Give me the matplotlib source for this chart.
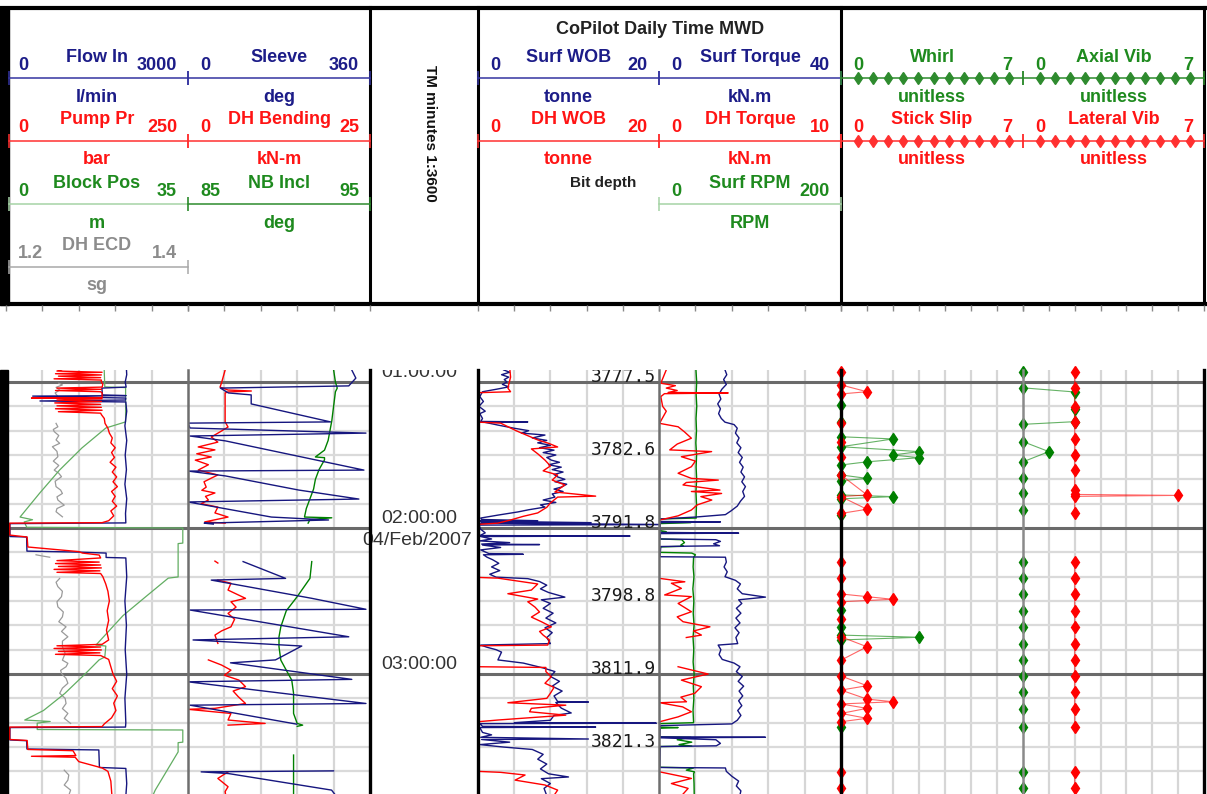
import numpy as np
import matplotlib.pyplot as plt
from matplotlib.patches import Rectangle

plt.rcParams['font.family'] = ['Liberation Sans', 'DejaVu Sans']

W, H = 1207, 794
DATA_TOP = 370                 # pixel row where the log body starts
T_TOP, T_BOT = 55.07, 229.3    # minutes after 00:00, 04/Feb/2007
nan = np.nan

# ---------------- log data: (minutes, value) ----------------
flow_in = [(50, 1975), (57, 1990), (60, 1965), (62.1, 1980), (62.5, 1580), (65.3, 1590), (65.6, 1980),
           (65.8, 440), (66.6, 1975), (67.4, 1970), (67.8, 560), (68.2, 1975), (72, 1990), (78, 1960),
           (84, 1990), (90, 1965), (96, 1985), (102, 1960), (108, 1990), (114, 1970), (117.9, 1975),
           (118.2, 65), (123.5, 65), (123.7, 340), (129.5, 345), (129.9, 1200), (130.3, 1650), (132.1, 1650),
           (132.3, 1975), (140, 1990), (150, 1960), (160, 1985), (170, 1965), (180, 1990), (190, 1960),
           (200, 1975), (201.8, 1970), (202.0, 65), (207.1, 65), (207.4, 340), (210.8, 345), (211.2, 1530),
           (218.4, 1540), (218.8, 1975), (225, 1990), (232, 1970)]

pump_pr = [(50, 130), (55.5, 70), (56, 132), (56.6, 68), (57.1, 131), (57.6, 72), (58.2, 130), (58.7, 66),
           (59.2, 131), (60, 131), (61, 133), (62.1, 132), (62.5, 70), (63, 131), (63.5, 68), (64, 130),
           (64.5, 132), (66.4, 132), (66.6, 35), (66.9, 132), (67.4, 70), (68, 131), (68.6, 67), (69.2, 130),
           (69.8, 70), (70.4, 131), (71, 68), (71.6, 132), (72.2, 72), (72.8, 130), (73.4, 131), (75, 135),
           (77, 136), (79, 140), (81, 142), (83, 146), (85, 144), (87, 150), (89, 145), (91, 149), (93, 143),
           (95, 151), (97, 146), (99, 152), (101, 147), (103, 153), (105, 145), (107, 150), (109, 146),
           (111, 152), (113, 144), (115, 148), (117, 141), (117.8, 132), (118.0, 5), (122.9, 5), (123.7, 29),
           (127.8, 30), (129.7, 100), (130.3, 105), (131.1, 128), (132.3, 130), (133.4, 70), (134, 128),
           (134.6, 68), (135.2, 130), (135.8, 72), (136.4, 131), (137, 66), (137.6, 129), (138.2, 70),
           (138.7, 130), (140, 133), (143, 137), (146, 140), (150, 142), (154, 139), (158, 141), (162, 138),
           (166, 141), (167.8, 132), (168.4, 70), (168.9, 130), (169.5, 66), (170.1, 131), (170.7, 72),
           (171.3, 129), (171.9, 68), (172.4, 130), (174, 141), (177, 144), (180, 147), (183, 152), (186, 146),
           (189, 153), (192, 148), (195, 151), (198, 145), (200.5, 135), (201.6, 132), (201.8, 5), (206.9, 5),
           (207.3, 29), (211, 30), (211.5, 92), (213.5, 96), (213.8, 35), (214.2, 95), (216, 100),
           (218.6, 132), (220, 140), (224, 144), (232, 146)]

block_pos = [(50, 18.8), (62.0, 19.0), (62.3, 23.0), (76.4, 23.0), (78.9, 19.2), (87.1, 14.6), (96.2, 10.3),
             (105.6, 6.5), (115.5, 2.7), (116.6, 5.1), (117.5, 3.5), (119.7, 4.0), (120.0, 34.0),
             (126.2, 34.0), (126.4, 33.1), (140.1, 33.1), (140.6, 31.2), (148, 27.0), (156, 22.5),
             (168.1, 17.3), (168.5, 19.2), (173, 19.0), (174.2, 17.9), (180, 15.2), (188, 11.3), (195, 7.2),
             (198.9, 3.6), (199.5, 8.5), (200.2, 6.0), (202.8, 6.0), (203.0, 34.0), (208.0, 34.0),
             (208.2, 33.1), (212.0, 33.1), (227.7, 28.7), (232, 27.8)]

dh_ecd = [(60.5, 1.258), (61.2, 1.262), (62.2, 1.255), (63.3, 1.259), (64.5, 1.254), (66.0, 1.257), (67, nan),
          (77.0, 1.255), (78.4, 1.257), (79.5, 1.252), (80.4, 1.253), (82, 1.258), (83.8, 1.255),
          (85.2, 1.259), (86.6, 1.251), (88.5, 1.256), (90.7, 1.257), (92.5, 1.252), (94.3, 1.258),
          (96.2, 1.253), (97.5, 1.258), (98.9, 1.261), (100.8, 1.254), (103.0, 1.255), (104.4, 1.260),
          (105.8, 1.262), (107.2, 1.256), (108.5, 1.257), (110.6, 1.264), (112, 1.256), (113.3, 1.255),
          (115.4, 1.262), (116, nan), (131.0, 1.233), (131.5, 1.240), (132.0, 1.248), (132.5, nan),
          (140.7, 1.259), (142.3, 1.255), (144.1, 1.257), (146, 1.262), (148.2, 1.261), (150.3, 1.256),
          (152.4, 1.257), (154.5, 1.263), (156.5, 1.262), (158.5, 1.258), (160.6, 1.266), (162.5, 1.261),
          (164.7, 1.268), (166.5, 1.262), (168.8, 1.262), (171.5, 1.265), (174.3, 1.262), (175.6, 1.268),
          (177.0, 1.266), (178.5, 1.260), (179.8, 1.261), (181.8, 1.266), (183.8, 1.268), (185.8, 1.262),
          (187.9, 1.259), (190, 1.265), (192.1, 1.266), (194.2, 1.262), (196.2, 1.268), (198.2, 1.264),
          (200.3, 1.271), (201, nan), (219.5, 1.264), (221.5, 1.269), (223.6, 1.268), (225.6, 1.264),
          (227.7, 1.271), (232, 1.267)]

sleeve = [(50, 330), (55.1, 324), (58.4, 332), (61.6, 318), (62.5, 64), (64.5, 80), (65.3, 125), (69.0, 125),
          (76.4, 282), (76.9, 0), (78.9, 4), (81.0, 352), (82.2, 4), (84.2, 74), (96.2, 348), (96.6, 0),
          (98.6, 74), (104.4, 219), (108.1, 338), (109.3, 0), (115.5, 165), (116.7, 278), (118.0, 32),
          (118.4, 50), (119, nan), (133.8, 109), (140.7, 193), (141.4, 46), (148.9, 245), (153.4, 352),
          (153.7, 4), (164.7, 318), (166.0, 10), (168.5, 225), (174.2, 173), (175.4, 84), (182.2, 324),
          (183.2, 0), (192.1, 352), (192.8, 4), (200.6, 215), (201, nan), (219.8, 288), (220.2, 26),
          (220.9, 80), (227.7, 284), (232, 300)]

dh_bending = [(50, 5.0), (55.1, 5.1), (60.4, 4.6), (62.1, 4.4), (63.3, 5.5), (63.7, 8.7), (64.1, 5.5),
              (64.5, 5.1), (76.4, 5.1), (78.5, 5.5), (80.5, 4.4), (82.6, 3.2), (84.7, 4.1), (86.7, 1.4),
              (87.9, 3.7), (89.5, 1.2), (90.8, 3.2), (92.1, 1.0), (94.0, 2.8), (96.2, 1.4), (98.2, 4.1),
              (99.5, 3.2), (101.0, 2.2), (103.2, 2.5), (104.5, 1.9), (105.6, 3.7), (107.0, 2.4), (108.5, 2.8),
              (110.0, 1.8), (111.4, 4.1), (113.8, 3.7), (115.5, 5.5), (117.5, 2.3), (118.0, 5.1), (118.5, nan),
              (133.6, 3.7), (134.4, 4.1), (135, nan), (141.4, 4.1), (142.7, 5.9), (145.5, 5.5), (148.9, 7.9),
              (150.3, 5.9), (152.5, 6.6), (155.1, 5.5), (157.5, 6.4), (160.6, 5.9), (162.3, 4.6), (164.0, 3.7),
              (167.4, 4.1), (168, nan), (174.2, 2.8), (176.3, 4.6), (178.4, 5.9), (180.5, 5.0), (182.5, 7.0),
              (185.2, 7.9), (187.0, 6.2), (189.3, 6.9), (192.1, 7.9), (194.1, 3.7), (194.5, 0.0), (196.2, 5.9),
              (198.9, 5.5), (200.3, 10.6), (201.0, 5.5), (201.5, nan), (220.2, 5.5), (222.9, 4.1),
              (226.3, 5.5), (228.3, 5.1), (232, 5.3)]

nb_incl = [(50, 93.0), (55, 93.0), (60, 93.1), (62.5, 93.2), (64, 93.1), (70, 93.0), (76, 92.9), (80, 92.8),
           (84, 92.7), (88, 92.5), (90.8, 92.0), (91.1, 92.5), (92, 92.5), (96, 92.2), (100, 92.0),
           (104, 91.9), (108, 91.7), (112, 91.5), (115.5, 91.4), (115.8, 92.9), (116.6, 91.7), (118, 91.6),
           (118.5, nan), (133.8, 91.8), (140.7, 91.7), (148.2, 91.0), (154, 90.4), (160.6, 90.1),
           (164.7, 90.0), (168.8, 90.0), (174.3, 90.1), (179.8, 90.5), (182.5, 90.7), (187.9, 90.8),
           (196.2, 90.8), (200.3, 91.0), (201.0, 91.3), (201.5, 91.0), (202, nan), (213.3, 90.8),
           (220, 90.8), (232, 90.8)]

surf_wob = [(50, 3.0), (55, 2.8), (56, 3.5), (57, 2.6), (58, 3.4), (59, 2.9), (60, 3.2), (61, 2.7), (62, 3.4),
            (63, 2.0), (64, 0.5), (66, 0.2), (68, 0.6), (70, 0.1), (72, 0.8), (73, 0.2), (75, 0.5), (76.2, 0.3),
            (76.4, 5.5), (76.6, 0.8), (77.7, 2.2), (79, 4.0), (80, 5.6), (81, 4.8), (81.8, 7.4), (83, 6.0),
            (84, 7.6), (85, 6.6), (86, 8.0), (87, 6.8), (88, 8.4), (89, 7.2), (90, 8.6), (91, 7.6), (92.1, 8.1),
            (93, 9.0), (94, 7.8), (95, 9.2), (96, 8.2), (97, 9.4), (98, 8.4), (99, 8.8), (100, 9.6), (101, 8.5),
            (102, 9.8), (103.2, 9.2), (104, 8.4), (105, 9.4), (106, 8.2), (107.3, 8.5), (108.5, 7.2),
            (109.5, 8.6), (110.5, 6.9), (111.4, 7.4), (112.5, 5.6), (113.4, 4.4), (114.7, 2.2), (115.9, 0.3),
            (116.5, 0.4), (117.0, 6.6), (117.2, 0.2), (117.8, 12.5), (118.0, 0.3), (118.6, 22.0), (118.8, 0.1),
            (120.5, 0.3), (122, 0.8), (123.1, 0.2), (123.3, 16.8), (123.5, 0.3), (124.5, 1.5), (125.3, 0.2),
            (126.0, 3.5), (126.6, 0.4), (126.8, 6.8), (127.0, 0.5), (128, 2.5), (129, 0.3), (130.5, 1.2),
            (130.8, 5.0), (131.0, 0.6), (132, 1.0), (133, 1.6), (134.5, 2.3), (136, 1.5), (137.5, 2.4),
            (139, 1.3), (140.2, 2.0), (140.8, 5.5), (142, 6.8), (143.5, 7.6), (145, 6.9), (146.5, 7.8),
            (148.4, 9.6), (149.5, 7.0), (151, 8.0), (153, 7.2), (155, 8.3), (157, 7.5), (159, 8.6), (161, 7.4),
            (163, 8.2), (165, 7.6), (167.5, 8.0), (168.1, 0.3), (169, 1.0), (170, 2.0), (171, 2.6),
            (174.2, 2.2), (175.5, 5.0), (177.5, 7.2), (179, 8.5), (181, 8.0), (183, 9.0), (185, 8.2),
            (187, 9.3), (189, 8.4), (191.3, 8.8), (191.5, 12.2), (191.7, 8.6), (194, 9.2), (196, 10.3),
            (197, 8.4), (199, 8.0), (200.0, 4.0), (200.2, 19.7), (200.4, 0.2), (201.5, 0.5), (201.8, 13.0),
            (202.0, 0.2), (204, 0.5), (205, 1.5), (206.0, 0.3), (206.7, 12.2), (206.9, 0.4), (208, 3.5),
            (209, 0.2), (210, 2.8), (211, 6.0), (213, 7.2), (215, 6.6), (217, 7.6), (219, 6.9), (221, 7.8),
            (222.3, 10.0), (223, 7.0), (225, 8.0), (227, 7.3), (232, 7.8)]

dh_wob = [(50, 3.4), (58, 3.6), (62.5, 3.3), (64.0, 3.6), (64.4, 0.0), (76.5, 0.0), (76.9, 2.5), (80, 4.2),
          (83.8, 6.6), (85.2, 7.8), (86.7, 8.8), (87.5, 5.9), (89.5, 6.6), (92.1, 7.4), (94.5, 8.0),
          (96.5, 7.2), (98.2, 8.8), (100.3, 8.2), (102.3, 9.6), (105.2, 8.5), (106.9, 13.0), (107.3, 8.8),
          (109.7, 8.0), (111.5, 7.6), (113.8, 6.6), (115.2, 5.0), (116.7, 3.6), (118.0, 2.2), (118.5, 0.0),
          (140.3, 0.0), (140.6, 2.2), (143.0, 6.6), (145.5, 5.9), (147.0, 3.3), (149.2, 6.6), (150.3, 5.5),
          (152.5, 6.3), (154.5, 6.8), (156.6, 5.9), (158.5, 7.0), (160.6, 8.1), (162.5, 6.8), (164.0, 7.2),
          (166, 7.9), (168.1, 7.7), (168.4, 0.0), (177.0, 0.0), (177.3, 7.5), (179.0, 7.5), (181.1, 8.1),
          (183.8, 7.4), (185.5, 8.4), (187.9, 8.0), (190, 7.6), (191.8, 3.3), (192.8, 9.7), (194.1, 5.9),
          (195.5, 5.7), (196.9, 9.7), (198.9, 2.2), (199.6, 0.0), (220.0, 0.0), (220.4, 2.5), (221.5, 5.2),
          (223.6, 4.1), (225.6, 7.4), (227.7, 8.8), (232, 8.0)]

surf_torque = [(50, 14.6), (55, 14.5), (57, 14.9), (59, 14.2), (61, 14.8), (63, 13.8), (65, 13.2), (67, 13.6),
               (69, 12.9), (71, 13.5), (73, 13.1), (75, 13.7), (76.5, 14.5), (77.5, 16.5), (79, 17.2),
               (81, 16.8), (83, 17.6), (85, 17.1), (87, 18.0), (89, 17.4), (91, 18.3), (93, 17.7), (95, 18.5),
               (97, 18.0), (99, 18.8), (101, 18.2), (103, 19.0), (105, 18.4), (107, 18.8), (109, 17.9),
               (111, 17.2), (113, 15.8), (114.5, 14.6), (115.5, 8.0), (116.3, 0.2), (117.3, 0.1), (117.5, 13.5),
               (117.8, 0.3), (121.8, 0.2), (122.1, 17.5), (122.3, 0.3), (124.5, 0.3), (124.8, 12.5),
               (125.5, 13.5), (126.5, 12.0), (127.3, 13.3), (127.6, 0.4), (131.8, 0.2), (132.0, 14.6),
               (134, 14.8), (136, 14.3), (138, 15.0), (140, 14.5), (141.5, 16.8), (143, 17.9), (145, 17.2),
               (147, 18.3), (148.4, 23.4), (149.5, 17.5), (151, 18.2), (153, 17.0), (155, 18.0), (157, 16.9),
               (159, 17.8), (161, 16.7), (163, 17.6), (165, 16.9), (167.5, 17.3), (168.1, 13.0), (170, 13.6),
               (172, 13.2), (174, 13.9), (175.5, 16.5), (177, 17.8), (179, 17.0), (181, 18.3), (183, 17.4),
               (185, 18.6), (187, 17.6), (189, 18.4), (191, 17.5), (193, 18.2), (195, 17.3), (197, 18.0),
               (199, 17.2), (200.5, 16.0), (201.2, 0.3), (205.8, 0.2), (206.0, 23.4), (206.2, 0.3),
               (207.0, 12.5), (208.5, 13.5), (209.5, 12.6), (209.8, 0.3), (218.4, 0.2), (218.6, 14.6),
               (220, 14.8), (222, 16.0), (224, 17.5), (226, 17.0), (228, 18.0), (232, 17.5)]

dh_torque = [(55, 0.4), (60.5, 0.1), (61.5, 0.9), (62.5, 0.4), (63.5, 1.0), (64.3, 0.5), (64.5, 3.8),
             (64.8, 0.3), (66, 0.1), (70, 0.2), (72, 0.4), (76, 0.1), (77.0, 0.04), (78.4, 1.05), (80.5, 1.4),
             (83.1, 1.78), (85.5, 1.0), (87.9, 0.59), (88.6, 2.89), (90.7, 1.23), (92.5, 2.0), (94.8, 1.78),
             (97.5, 1.05), (99.6, 1.78), (100.3, 3.26), (101.3, 1.5), (102.3, 1.32), (104.4, 3.35),
             (105.0, 1.78), (105.8, 3.44), (107.1, 2.3), (108.5, 2.9), (110.5, 2.1), (112.6, 1.78),
             (115.0, 1.05), (116.7, 0.05), (117.5, nan), (140.7, 0.04), (142.1, 1.42), (142.7, 0.68),
             (144.8, 1.23), (147.5, 0.31), (148.2, 1.78), (151.0, 1.05), (154.4, 1.78), (156.5, 1.0),
             (158.5, 1.32), (159.2, 1.78), (160.6, 2.8), (162.3, 1.9), (164.0, 2.33), (165.0, 1.5),
             (166.0, nan), (177.0, 1.05), (180.0, 2.7), (182.5, 1.23), (185.2, 2.33), (187.9, 1.97),
             (189.5, 1.2), (191.4, 1.51), (191.8, 0.04), (193.5, 1.3), (195.5, 1.78), (197.6, 1.05),
             (199.6, 0.04), (200, nan), (220.2, 0.04), (222.9, 1.78), (225.0, 0.68), (227.0, 1.6), (232, 1.0)]

surf_rpm = [(50, 41), (55, 40.6), (60, 41.4), (65, 40.8), (70, 41.5), (75, 40.7), (80, 41.2), (85, 40.5),
            (90, 41.3), (95, 40.8), (100, 41.4), (105, 40.6), (110, 41.2), (115.5, 40.8), (115.9, 41),
            (116.3, 0), (117.5, 0), (117.8, 35), (118.2, 0), (121, 0), (121.5, 8), (122, 0), (124.5, 0),
            (124.8, 25), (126, 28), (127, 24), (127.5, 27), (127.8, 0), (130, 0), (130.3, 36), (131, 40),
            (132, 38), (136, 37.5), (140, 38.4), (145, 37.2), (150, 38.3), (155, 37.6), (160, 38.5),
            (165, 37.4), (170, 38.2), (175, 37.5), (180, 38.6), (185, 37.7), (190, 38.3), (195, 37.4),
            (200.0, 38), (200.4, 0), (201.8, 0), (202.0, 21), (202.3, 0), (205.8, 0), (206.0, 35), (207, 20),
            (208, 36), (209, 22), (209.6, 36), (209.8, 0), (218.3, 0), (218.6, 38), (219.5, 30), (220.2, 39),
            (221, 38), (225, 38.5), (232, 38.8)]

stick_slip = [(55.8, 0), (61.2, 0), (64.0, 1), (64.9, 0), (77.0, 0), (84.5, 0), (91.0, 0), (98.2, 0),
              (106.4, 1), (107.1, 0), (112.3, 1), (114.0, 0), (114.5, nan), (133.8, 0), (140.7, 0), (147.1, 0),
              (148.2, 1), (149.3, 2), (150.3, 0), (157.5, 0), (164.7, 0), (168.8, 1), (174.3, 0), (180.8, 0),
              (184.8, 1), (186.6, 0), (190.3, 1), (191.4, 2), (192.3, 0), (194.1, 1), (196.2, 0), (198.2, 1),
              (199.6, 0), (200, nan), (220.2, 0), (226.8, 0)]

whirl = [(69.5, 0), (76.3, 0), (82.5, 0), (83.4, 2), (86.6, 0), (88.6, 3), (90.0, 2), (91.1, 3), (92.8, 1),
         (94.1, 0), (98.2, 0), (99.6, 1), (100.6, 0), (106.4, 0), (107.1, 2), (108.0, 0), (114.7, 0),
         (115, nan), (153.7, 0), (160.8, 0), (164.0, 0), (164.9, 3), (166.0, 0), (201.6, 0)]

axial_vib = [(55.8, 0), (62.4, 0), (64.1, 2), (70.9, 2), (76.3, 2), (77.4, 0), (84.5, 0), (88.6, 1),
             (92.8, 0), (99.6, 0), (105.8, 0), (112.6, 0), (113, nan), (133.8, 0), (140.7, 0), (147.1, 0),
             (154.0, 0), (160.8, 0), (167.7, 0), (174.3, 0), (180.8, 0), (187.4, 0), (194.3, 0), (201.9, 0),
             (202.5, nan), (220.2, 0), (226.8, 0)]

lateral_vib = [(55.8, 2), (62.4, 2), (70.2, 2), (76.3, 2), (83.4, 2), (90.0, 2), (96.3, 2), (104.3, 2),
               (106.2, 2), (106.6, 6), (107.0, 2), (113.8, 2), (114.5, nan), (133.8, 2), (140.7, 2),
               (147.1, 2), (154.0, 2), (160.8, 2), (167.7, 2), (174.3, 2), (180.8, 2), (187.4, 2),
               (194.3, 2), (201.9, 2), (202.5, nan), (220.2, 2), (226.8, 2)]

hour_marks = [60, 120, 180]
hour_labels = ['01:00:00', '02:00:00', '03:00:00']
depth_marks = [60, 90, 120, 150, 180, 210]
depth_labels = ['3777.5', '3782.6', '3791.8', '3798.8', '3811.9', '3821.3']

# ---------------- layout ----------------
BLUE, RED, GREEN, LGREEN, GRAY = '#16167f', '#ff0000', '#008000', '#62ad62', '#9a9a9a'
TBLUE, TRED, TGREEN, TGRAY = '#1c1c88', '#ff1414', '#1e8a1e', '#8c8c8c'
SUB = {'1L': (6, 188), '1R': (188, 370), '2L': (478, 659), '2R': (659, 841),
       '3L': (841, 1023), '3R': (1023, 1204)}
NDIV = {'1L': 5, '1R': 5, '2L': 5, '2R': 5, '3L': 7, '3R': 7}

fig = plt.figure(figsize=(W / 100, H / 100), dpi=100)


def rect(x0, y0, x1, y1):
    return [x0 / W, 1 - y1 / H, (x1 - x0) / W, (y1 - y0) / H]


def track_axes(x0, x1, lo, hi, z=2):
    ax = fig.add_axes(rect(x0, DATA_TOP, x1, H), zorder=z)
    ax.set_xlim(lo, hi)
    ax.set_ylim(T_BOT, T_TOP)
    ax.axis('off')
    return ax


# grids
for key, (x0, x1) in SUB.items():
    n = NDIV[key]
    g = track_axes(x0, x1, 0, n, z=1)
    for k in range(1, n):
        g.axvline(k, color='#d6d6d6', lw=1.6)
    for m in range(60, 230, 10):
        if m % 60:
            g.axhline(m, color='#dadada', lw=1.6)
    for m in hour_marks:
        g.axhline(m, color='#6a6a6a', lw=2.2)


def curve(key, lo, hi, data, color, lw=1.0):
    t, v = np.array(data, dtype=float).T
    ax = track_axes(*SUB[key], lo, hi)
    ax.plot(v, t, color=color, lw=lw)
    return ax


def marker_curve(key, data, color):
    t, v = np.array(data, dtype=float).T
    ax = track_axes(*SUB[key], 0, 7, z=3)
    ax.plot(v, t, color=color, lw=0.8, alpha=0.6)
    ax.plot(v, t, ls='none', marker='d', ms=6, color=color, clip_on=False)


curve('1L', 1.2, 1.4, dh_ecd, GRAY, 0.9)
curve('1L', 0, 35, block_pos, LGREEN, 0.9)
curve('1L', 0, 3000, flow_in, BLUE)
curve('1L', 0, 250, pump_pr, RED)
curve('1R', 85, 95, nb_incl, GREEN)
curve('1R', 0, 25, dh_bending, RED)
curve('1R', 0, 360, sleeve, BLUE)
wob_ax = curve('2L', 0, 20, surf_wob, BLUE)
curve('2L', 0, 20, dh_wob, RED)
curve('2R', 0, 200, surf_rpm, GREEN)
curve('2R', 0, 40, surf_torque, BLUE)
curve('2R', 0, 10, dh_torque, RED)
marker_curve('3L', whirl, GREEN)
marker_curve('3L', stick_slip, RED)
marker_curve('3R', axial_vib, GREEN)
marker_curve('3R', lateral_vib, RED)

# bit depth labels
for t, s in zip(depth_marks, depth_labels):
    wob_ax.text(0.985, t, s, transform=wob_ax.get_yaxis_transform(), ha='right', va='baseline',
                family='DejaVu Sans Mono', fontsize=13, color='#1a1a1a', clip_on=True, zorder=5)

# time track labels
tax = track_axes(370, 478, 0, 1, z=4)
for t, s in zip(hour_marks, hour_labels):
    tax.text(0.46, t - 0.6, s, ha='center', va='bottom', fontsize=14, color='#333333', clip_on=True)
tax.text(0.44, 121.8, '04/Feb/2007', ha='center', va='top', fontsize=14, color='#333333')

# ---------------- header + borders (pixel overlay) ----------------
ov = fig.add_axes([0, 0, 1, 1], zorder=10)
ov.set_xlim(0, W)
ov.set_ylim(H, 0)
ov.axis('off')

ov.add_patch(Rectangle((0, 7), 9, 298, color='black'))
ov.add_patch(Rectangle((0, DATA_TOP), 8, H - DATA_TOP, color='black'))
ov.plot([0, W], [7.5, 7.5], color='black', lw=3)
ov.plot([0, W], [304, 304], color='black', lw=3)
for x in (370, 478, 841, 1204):
    ov.plot([x, x], [7, 304], color='black', lw=2.2)
    ov.plot([x, x], [DATA_TOP, H], color='black', lw=2.4)
for x, c in ((188, '#6e6e6e'), (659, '#6e6e6e'), (1023, '#8a8a8a')):
    ov.plot([x, x], [DATA_TOP, H], color=c, lw=1.8)
for key, (x0, x1) in SUB.items():
    n = NDIV[key]
    ov.vlines([x0 + (x1 - x0) * k / n for k in range(n + 1)], 305, 311, color='#8a8a8a', lw=1)

bold = dict(fontsize=13, fontweight='bold', va='center')


def legend(key, y, name, lo, hi, unit, tcolor, lcolor, diamonds=False):
    x0, x1 = SUB[key]
    xs = 9 if x0 < 9 else x0
    ov.plot([xs, x1], [y, y], color=lcolor, lw=1.1)
    ov.vlines([xs, x1], y - 7, y + 7, color=lcolor, lw=1.1)
    if diamonds:
        ov.plot(np.linspace(x0 + 17, x1 - 14, 11), [y] * 11, ls='none', marker='d', ms=6.5, color=lcolor)
    ov.text((x0 + x1) / 2, y - 21, name, ha='center', color=tcolor, **bold)
    ov.text(x0 + 12, y - 13, lo, ha='left', color=tcolor, **bold)
    ov.text(x1 - 11, y - 13, hi, ha='right', color=tcolor, **bold)
    ov.text((x0 + x1) / 2, y + 19, unit, ha='center', color=tcolor, **bold)


legend('1L', 78, 'Flow In', '0', '3000', 'l/min', TBLUE, '#3434a0')
legend('1R', 78, 'Sleeve', '0', '360', 'deg', TBLUE, '#3434a0')
legend('1L', 141, 'Pump Pr', '0', '250', 'bar', TRED, '#ff3030')
legend('1R', 141, 'DH Bending', '0', '25', 'kN-m', TRED, '#ff3030')
legend('1L', 204, 'Block Pos', '0', '35', 'm', TGREEN, '#a6d3a6')
legend('1R', 204, 'NB Incl', '85', '95', 'deg', TGREEN, '#2e8b2e')
legend('1L', 267, 'DH ECD', '1.2', '1.4', 'sg', TGRAY, '#a8a8a8')
legend('2L', 78, 'Surf WOB', '0', '20', 'tonne', TBLUE, '#3434a0')
legend('2R', 78, 'Surf Torque', '0', '40', 'kN.m', TBLUE, '#3434a0')
legend('2L', 141, 'DH WOB', '0', '20', 'tonne', TRED, '#ff3030')
legend('2R', 141, 'DH Torque', '0', '10', 'kN.m', TRED, '#ff3030')
legend('2R', 204, 'Surf RPM', '0', '200', 'RPM', TGREEN, '#a6d3a6')
legend('3L', 78, 'Whirl', '0', '7', 'unitless', TGREEN, '#2e8b2e', diamonds=True)
legend('3R', 78, 'Axial Vib', '0', '7', 'unitless', TGREEN, '#2e8b2e', diamonds=True)
legend('3L', 141, 'Stick Slip', '0', '7', 'unitless', TRED, '#ff3030', diamonds=True)
legend('3R', 141, 'Lateral Vib', '0', '7', 'unitless', TRED, '#ff3030', diamonds=True)

ov.text(660, 30, 'CoPilot Daily Time MWD', ha='center', va='center', fontsize=13,
        fontweight='bold', color='#222222')
ov.text(603, 183, 'Bit depth', ha='center', va='center', fontsize=11, fontweight='bold', color='#222222')
ov.text(430, 133, 'TM minutes 1:3600', rotation=270, ha='center', va='center', fontsize=11,
        fontweight='bold', color='#111111')

fig.savefig('out.png', dpi=100)
